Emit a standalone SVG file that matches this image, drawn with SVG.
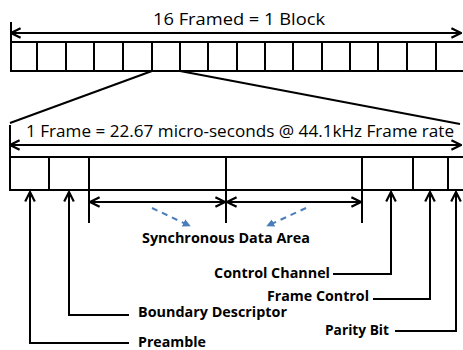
<svg xmlns="http://www.w3.org/2000/svg" width="463" height="350" viewBox="0 0 463 350">
<defs>
<style>
.ln{stroke:#000;stroke-width:2;fill:none}
.cell{stroke:#000;stroke-width:2;fill:#fff}
.t{font-family:"Open Sans","Noto Sans",sans-serif;font-size:16px;fill:#000}
.lb{font-family:"Open Sans","Noto Sans",sans-serif;font-size:14px;font-weight:bold;fill:#000}
.blue{stroke:#4a7ebb;stroke-width:2;fill:none;stroke-dasharray:6,5}
</style>
<marker id="ah" viewBox="0 0 10 10" refX="9" refY="5" markerWidth="6" markerHeight="6" orient="auto-start-reverse" markerUnits="strokeWidth">
<path d="M1,1 L9,5 L1,9" fill="none" stroke="#000" stroke-width="1.8"/>
</marker>
<marker id="bh" viewBox="0 0 10 10" refX="9" refY="5" markerWidth="4" markerHeight="4" orient="auto" markerUnits="strokeWidth">
<path d="M0,0 L10,5 L0,10 Z" fill="#4a7ebb"/>
</marker>
</defs>
<rect width="463" height="350" fill="#fff"/>

<g id="block">
<text class="t" x="239" y="25" text-anchor="middle" font-size="17" textLength="172" lengthAdjust="spacingAndGlyphs">16 Framed = 1 Block</text>
<line class="ln" x1="11" y1="22" x2="11" y2="71"/>
<rect class="cell" x="11" y="42" width="460" height="29"/>
<path class="ln" d="M37,42V71M66,42V71M94,42V71M123,42V71M152,42V71M180,42V71M208,42V71M237,42V71M265,42V71M293,42V71M322,42V71M350,42V71M378,42V71M407,42V71M436,42V71"/>
</g>

<g id="frame">
<text class="t" x="240" y="137" text-anchor="middle" textLength="428" lengthAdjust="spacingAndGlyphs">1 Frame = 22.67 micro-seconds @ 44.1kHz Frame rate</text>
<line class="ln" x1="10" y1="125" x2="10" y2="190"/>
<rect class="cell" x="10" y="157" width="460" height="33"/>
<path class="ln" d="M49,157V190M89,157V190M226,157V190M362,157V190M413,157V190M448,157V190"/>
</g>

<g id="labels">
<text class="lb" x="142" y="243" textLength="168" lengthAdjust="spacingAndGlyphs">Synchronous Data Area</text>
<text class="lb" x="214" y="278" textLength="116" lengthAdjust="spacingAndGlyphs">Control Channel</text>
<text class="lb" x="267" y="301" textLength="102" lengthAdjust="spacingAndGlyphs">Frame Control</text>
<text class="lb" x="138" y="317" textLength="149" lengthAdjust="spacingAndGlyphs">Boundary Descriptor</text>
<text class="lb" x="325" y="335" textLength="64" lengthAdjust="spacingAndGlyphs">Parity Bit</text>
<text class="lb" x="138" y="347" textLength="68" lengthAdjust="spacingAndGlyphs">Preamble</text>
</g>

<g id="connectors">
<line class="ln" x1="11" y1="33" x2="461" y2="33" marker-start="url(#ah)" marker-end="url(#ah)"/>
<line class="ln" x1="152" y1="71" x2="10" y2="123"/>
<line class="ln" x1="180" y1="71" x2="460" y2="124"/>
<line class="ln" x1="10" y1="145" x2="461" y2="145" marker-start="url(#ah)" marker-end="url(#ah)"/>
<path class="ln" d="M89,190V223M226,190V223M362,190V223"/>
<line class="ln" x1="90" y1="202" x2="225" y2="202" marker-start="url(#ah)" marker-end="url(#ah)"/>
<line class="ln" x1="227" y1="202" x2="361" y2="202" marker-start="url(#ah)" marker-end="url(#ah)"/>
<line class="blue" x1="152" y1="208" x2="190" y2="226" marker-end="url(#bh)"/>
<line class="blue" x1="306" y1="208" x2="267" y2="226" marker-end="url(#bh)"/>
<path class="ln" d="M129,343H30V192" marker-end="url(#ah)"/>
<path class="ln" d="M129,315H69V192" marker-end="url(#ah)"/>
<path class="ln" d="M333,274H391V192" marker-end="url(#ah)"/>
<path class="ln" d="M373,299H430V192" marker-end="url(#ah)"/>
<path class="ln" d="M395,331H456V192" marker-end="url(#ah)"/>
</g>
</svg>
